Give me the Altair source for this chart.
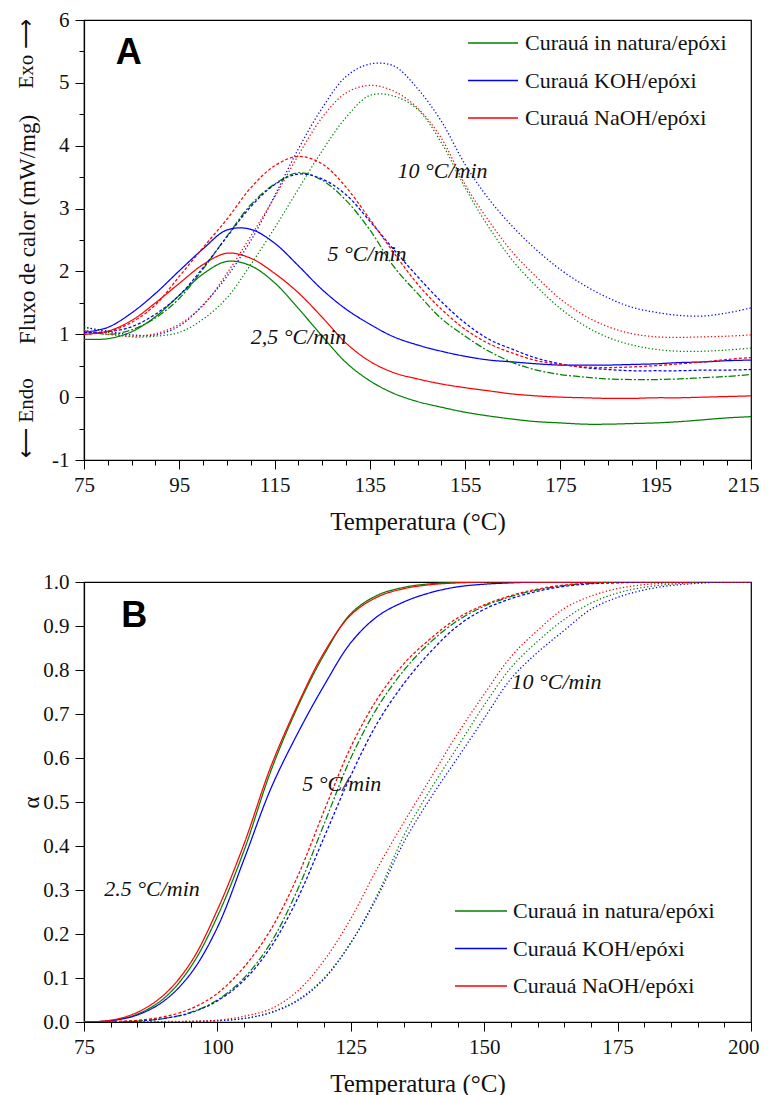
import altair as alt
import pandas as pd

MATERIALS = ["Curauá in natura/epóxi", "Curauá KOH/epóxi", "Curauá NaOH/epóxi"]
COLORS = ["#008000", "#0000ff", "#ff0000"]

# ---------------- Panel A : DSC heat flow ----------------
TEMP_A = list(range(75, 216, 5))
A_NAT_25 = [0.92, 0.93, 1.04, 1.28, 1.62, 1.96, 2.16, 2.09, 1.82, 1.41, 0.97, 0.55, 0.26, 0.06, -0.07,
            -0.16, -0.24, -0.30, -0.35, -0.39, -0.41, -0.43, -0.43, -0.42, -0.41, -0.39, -0.36, -0.33, -0.31]
A_KOH_25 = [1.03, 1.11, 1.34, 1.65, 2.01, 2.36, 2.66, 2.67, 2.45, 2.09, 1.71, 1.40, 1.16, 0.96, 0.83,
            0.73, 0.65, 0.59, 0.56, 0.53, 0.51, 0.51, 0.51, 0.52, 0.53, 0.55, 0.56, 0.58, 0.59]
A_NAOH_25 = [1.0, 1.05, 1.22, 1.50, 1.81, 2.11, 2.29, 2.21, 1.97, 1.66, 1.27, 0.86, 0.57, 0.39, 0.29,
             0.21, 0.15, 0.10, 0.05, 0.02, 0.0, -0.01, -0.02, -0.02, -0.01, -0.01, 0.0, 0.01, 0.02]
A_NAT_5 = [1.06, 1.0, 1.07, 1.26, 1.57, 2.04, 2.56, 3.06, 3.39, 3.57, 3.45, 3.13, 2.66, 2.08, 1.65,
           1.25, 0.97, 0.73, 0.55, 0.43, 0.36, 0.32, 0.29, 0.28, 0.28, 0.29, 0.31, 0.33, 0.36]
A_KOH_5 = [1.03, 1.04, 1.12, 1.32, 1.62, 2.06, 2.55, 3.03, 3.38, 3.55, 3.47, 3.22, 2.80, 2.35, 1.92,
           1.52, 1.18, 0.92, 0.76, 0.62, 0.53, 0.47, 0.44, 0.42, 0.42, 0.42, 0.43, 0.43, 0.44]
A_NAOH_5 = [1.0, 1.04, 1.19, 1.47, 1.92, 2.38, 2.83, 3.33, 3.68, 3.83, 3.71, 3.34, 2.83, 2.30, 1.80,
            1.40, 1.08, 0.85, 0.70, 0.58, 0.52, 0.48, 0.47, 0.48, 0.50, 0.53, 0.56, 0.60, 0.63]
A_NAT_10 = [1.12, 1.03, 0.96, 0.97, 1.03, 1.24, 1.58, 2.11, 2.69, 3.31, 3.92, 4.45, 4.80, 4.79, 4.58,
            4.05, 3.33, 2.70, 2.17, 1.76, 1.41, 1.14, 0.95, 0.83, 0.76, 0.73, 0.73, 0.75, 0.78]
A_KOH_10 = [1.11, 1.05, 0.99, 0.99, 1.13, 1.47, 1.92, 2.49, 3.2, 3.95, 4.6, 5.1, 5.3, 5.27, 4.91,
            4.39, 3.70, 3.15, 2.71, 2.34, 2.03, 1.78, 1.58, 1.43, 1.35, 1.30, 1.29, 1.34, 1.42]
A_NAOH_10 = [1.07, 1.0, 0.97, 1.01, 1.16, 1.46, 1.97, 2.56, 3.18, 3.85, 4.45, 4.84, 4.96, 4.87, 4.60,
             4.12, 3.38, 2.80, 2.30, 1.91, 1.56, 1.30, 1.12, 1.01, 0.96, 0.95, 0.96, 0.97, 0.99]

TICKS_A_X = list(range(75, 216, 5))
TICKS_A_Y = [-1 + 0.5 * i for i in range(15)]

ANNOT_A_TEXT = ["10 °C/min", "5 °C/min", "2,5 °C/min"]
ANNOT_A_T = [140.8, 126.1, 110.0]
ANNOT_A_V = [3.6, 2.28, 0.96]

# ---------------- Panel B : conversion ----------------
TEMP_B = list(range(75, 201, 5))
B_NAT_25 = [0, 0.003, 0.018, 0.054, 0.125, 0.24, 0.39, 0.57, 0.715, 0.835, 0.928, 0.97, 0.988, 0.996, 0.999,
            1, 1, 1, 1, 1, 1, 1, 1, 1, 1, 1]
B_KOH_25 = [0, 0.003, 0.016, 0.048, 0.11, 0.215, 0.37, 0.53, 0.655, 0.765, 0.862, 0.922, 0.955, 0.976, 0.989,
            0.995, 0.998, 1, 1, 1, 1, 1, 1, 1, 1, 1]
B_NAOH_25 = [0, 0.004, 0.022, 0.062, 0.135, 0.255, 0.405, 0.58, 0.72, 0.84, 0.925, 0.966, 0.985, 0.994, 0.998,
             1, 1, 1, 1, 1, 1, 1, 1, 1, 1, 1]
B_NAT_5 = [0, 0, 0.002, 0.008, 0.022, 0.05, 0.1, 0.18, 0.3, 0.45, 0.6, 0.715, 0.8, 0.864, 0.912,
           0.945, 0.967, 0.982, 0.992, 0.997, 1, 1, 1, 1, 1, 1]
B_KOH_5 = [0, 0, 0.002, 0.008, 0.021, 0.048, 0.095, 0.17, 0.28, 0.42, 0.56, 0.68, 0.77, 0.842, 0.9,
           0.938, 0.962, 0.979, 0.99, 0.996, 0.998, 1, 1, 1, 1, 1]
B_NAOH_5 = [0, 0.001, 0.004, 0.012, 0.03, 0.065, 0.125, 0.21, 0.33, 0.48, 0.625, 0.735, 0.815, 0.872, 0.918,
            0.948, 0.969, 0.984, 0.993, 0.998, 1, 1, 1, 1, 1, 1]
B_NAT_10 = [0, 0, 0, 0, 0.001, 0.003, 0.008, 0.022, 0.05, 0.1, 0.18, 0.29, 0.425, 0.53, 0.625,
            0.72, 0.805, 0.865, 0.915, 0.952, 0.975, 0.988, 0.995, 0.999, 1, 1]
B_KOH_10 = [0, 0, 0, 0, 0.001, 0.003, 0.008, 0.021, 0.048, 0.098, 0.18, 0.285, 0.41, 0.51, 0.6,
            0.69, 0.78, 0.84, 0.89, 0.938, 0.965, 0.982, 0.992, 0.997, 1, 1]
B_NAOH_10 = [0, 0, 0, 0.001, 0.002, 0.004, 0.013, 0.03, 0.07, 0.14, 0.235, 0.35, 0.455, 0.555, 0.655,
             0.745, 0.83, 0.89, 0.94, 0.968, 0.985, 0.994, 0.998, 1, 1, 1]

TICKS_B_X = list(range(75, 201, 5))
TICKS_B_Y = [round(0.1 * i, 1) for i in range(11)]

ANNOT_B_TEXT = ["10 °C/min", "5 °C/min", "2.5 °C/min"]
ANNOT_B_T = [155.1, 115.9, 78.8]
ANNOT_B_V = [0.773, 0.541, 0.302]

SERIF = "Liberation Serif"


def build_long(temps, series):
    rows = []
    for mat, rate, vals in series:
        for t, v in zip(temps, vals):
            rows.append({"T": t, "v": v, "material": mat, "series": f"{mat}|{rate}"})
    return pd.DataFrame(rows)


series_a = [
    (MATERIALS[0], "2.5", A_NAT_25), (MATERIALS[1], "2.5", A_KOH_25), (MATERIALS[2], "2.5", A_NAOH_25),
    (MATERIALS[0], "5", A_NAT_5), (MATERIALS[1], "5", A_KOH_5), (MATERIALS[2], "5", A_NAOH_5),
    (MATERIALS[0], "10", A_NAT_10), (MATERIALS[1], "10", A_KOH_10), (MATERIALS[2], "10", A_NAOH_10),
]
series_b = [
    (MATERIALS[0], "2.5", B_NAT_25), (MATERIALS[1], "2.5", B_KOH_25), (MATERIALS[2], "2.5", B_NAOH_25),
    (MATERIALS[0], "5", B_NAT_5), (MATERIALS[1], "5", B_KOH_5), (MATERIALS[2], "5", B_NAOH_5),
    (MATERIALS[0], "10", B_NAT_10), (MATERIALS[1], "10", B_KOH_10), (MATERIALS[2], "10", B_NAOH_10),
]
df_a = build_long(TEMP_A, series_a)
df_b = build_long(TEMP_B, series_b)

dash_dom = [f"{m}|{r}" for r in ["2.5", "5", "10"] for m in MATERIALS]
dash_a = [[1, 0], [1, 0], [1, 0], [7, 2, 2, 2], [3, 2], [3, 2], [1.3, 2.2], [1.3, 2.2], [1.3, 2.2]]
dash_b = [[1, 0], [1, 0], [1, 0], [5, 2], [2.5, 2], [3, 2], [1.3, 2.2], [1.3, 2.2], [1.3, 2.2]]

color_enc = alt.Color("material:N", scale=alt.Scale(domain=MATERIALS, range=COLORS), legend=None)

W = 667
H = 440


def panel(df, temps_dom, y_dom, x_axis, y_axis, dashes, annot, letter, legend_pos, extra_layers):
    xs = alt.Scale(domain=temps_dom, nice=False, zero=False)
    ys = alt.Scale(domain=y_dom, nice=False, zero=False)
    xenc = alt.X("T:Q", scale=xs, axis=x_axis)
    lines = alt.Chart(df).mark_line(strokeWidth=1.25, interpolate="catmull-rom", clip=True).encode(
        x=xenc,
        y=alt.Y("v:Q", scale=ys, axis=y_axis),
        color=color_enc,
        strokeDash=alt.StrokeDash("series:N", scale=alt.Scale(domain=dash_dom, range=dashes), legend=None),
        detail="series:N",
    )
    adf = pd.DataFrame({"label": annot[0], "T": annot[1], "v": annot[2]})
    ann = alt.Chart(adf).mark_text(align="left", baseline="middle", font=SERIF, fontSize=22,
                                   fontStyle="italic", color="#111").encode(
        x=xenc,
        y=alt.Y("v:Q", scale=ys, axis=None),
        text="label:N",
    )
    ldf = pd.DataFrame({"label": [letter[0]], "T": [letter[1]], "v": [letter[2]]})
    let = alt.Chart(ldf).mark_text(align="center", baseline="middle", font="Liberation Sans",
                                   fontSize=36, fontWeight="bold", color="black").encode(
        x=xenc,
        y=alt.Y("v:Q", scale=ys, axis=None),
        text="label:N",
    )
    gdf = pd.DataFrame({"material": MATERIALS})
    lx0, lx1, ltx, ly0, ly1 = legend_pos
    gy = alt.Y("material:N", sort=MATERIALS, axis=None,
               scale=alt.Scale(type="point", domain=MATERIALS, range=[ly0, ly1], padding=0))
    grule = alt.Chart(gdf).mark_rule(strokeWidth=1.3).encode(
        x=alt.value(lx0), x2=alt.value(lx1), y=gy, color=color_enc)
    gtext = alt.Chart(gdf).mark_text(align="left", baseline="middle", font=SERIF, fontSize=22,
                                     color="#111").encode(
        x=alt.value(ltx), y=gy, text="material:N")
    layers = [lines, ann, let, grule, gtext] + extra_layers
    return alt.layer(*layers).resolve_scale(y="independent").properties(width=W, height=H)


def cond_tick(test):
    return {"condition": {"test": test, "value": 9}, "value": 5}


def last_align(last):
    return {"condition": {"test": f"datum.value === {last}", "value": "right"}, "value": "center"}


def last_offset(last):
    return {"condition": {"test": f"datum.value === {last}", "value": 8}, "value": 0}


x_axis_a = alt.Axis(values=TICKS_A_X, title="Temperatura (°C)",
                    tickSize=cond_tick("(datum.value - 75) % 20 === 0"),
                    labelExpr="(datum.value - 75) % 20 === 0 ? datum.label : ''",
                    labelAlign=last_align(215), labelOffset=last_offset(215),
                    labelPadding=5, labelOverlap=False, labelFlush=False,
                    titleY=61, titleBaseline="middle", titleFontSize=25)
y_axis_a = alt.Axis(values=TICKS_A_Y, title="Fluxo de calor (mW/mg)",
                    tickSize=cond_tick("datum.value % 1 === 0"),
                    labelExpr="datum.value % 1 === 0 ? '' + datum.value : ''",
                    labelPadding=6, labelOverlap=False,
                    titleX=-57, titleY=209, titleBaseline="middle", titleAngle=270)

x_axis_b = alt.Axis(values=TICKS_B_X, title="Temperatura (°C)",
                    tickSize=cond_tick("(datum.value - 75) % 25 === 0"),
                    labelExpr="(datum.value - 75) % 25 === 0 ? datum.label : ''",
                    labelAlign=last_align(200), labelOffset=last_offset(200),
                    labelPadding=5, labelOverlap=False, labelFlush=False,
                    titleY=61, titleBaseline="middle", titleFontSize=25)
y_axis_b = alt.Axis(values=TICKS_B_Y, title="α", tickSize=9,
                    labelExpr="format(datum.value, '.1f')", labelPadding=6, labelOverlap=False,
                    titleX=-53, titleY=220, titleBaseline="middle", titleAngle=270)

side_df = pd.DataFrame({"label": ["x"]})
exo = alt.Chart(side_df).mark_text(angle=270, font=SERIF, fontSize=21, color="#111",
                                   align="center", baseline="middle").encode(
    x=alt.value(-57), y=alt.value(34), text=alt.value("Exo ⟶"))
endo = alt.Chart(side_df).mark_text(angle=270, font=SERIF, fontSize=21, color="#111",
                                    align="center", baseline="middle").encode(
    x=alt.value(-57), y=alt.value(398), text=alt.value("⟵ Endo"))

chart_a = panel(df_a, [75, 215], [-1, 6], x_axis_a, y_axis_a, dash_a,
                (ANNOT_A_TEXT, ANNOT_A_T, ANNOT_A_V), ("A", 84.4, 5.47),
                (384, 434, 441, 23, 98), [exo, endo])
chart_b = panel(df_b, [75, 200], [0, 1], x_axis_b, y_axis_b, dash_b,
                (ANNOT_B_TEXT, ANNOT_B_T, ANNOT_B_V), ("B", 84.4, 0.923),
                (371, 423, 429, 329, 404), [])

chart = alt.vconcat(chart_a, chart_b, spacing=122, bounds="flush").properties(
    padding={"left": 7, "top": 0, "right": 0, "bottom": 5}
).configure_view(stroke="black", strokeWidth=1.2).configure_axis(
    domainColor="black", domainWidth=1.2, tickColor="black", tickWidth=1,
    labelFont=SERIF, labelFontSize=21, labelColor="#111",
    titleFont=SERIF, titleFontSize=23, titleFontWeight="normal", titleColor="#111", grid=False
)

chart.save("out.html", embed_options={"renderer": "svg", "actions": False})
